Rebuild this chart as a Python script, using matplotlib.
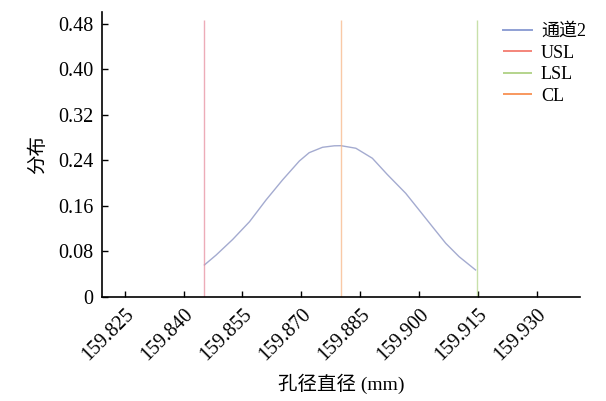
import matplotlib
matplotlib.use("Agg")
from matplotlib import pyplot as plt
from matplotlib.ticker import FuncFormatter

plt.rcParams['font.family'] = ['Liberation Serif', 'Noto Sans CJK SC']
plt.rcParams['axes.unicode_minus'] = False

# normal curve for channel 2
diam = [159.8453, 159.8483, 159.8525, 159.8568, 159.8610, 159.8652, 159.8695,
        159.8720, 159.8754, 159.8784, 159.8801, 159.8839, 159.8881, 159.8919,
        159.8966, 159.9000, 159.9034, 159.9068, 159.9102, 159.9144]
dens = [0.0563, 0.0738, 0.1011, 0.1324, 0.1705, 0.2057, 0.2391,
        0.2537, 0.2632, 0.2658, 0.2660, 0.2615, 0.2439, 0.2154,
        0.1823, 0.1530, 0.1236, 0.0944, 0.0709, 0.0475]

usl = 159.8453
lsl = 159.9147
cl = 159.8802
limit_top = 0.487

xticks = [159.825, 159.840, 159.855, 159.870, 159.885, 159.900, 159.915, 159.930]
yticks = [0, 0.08, 0.16, 0.24, 0.32, 0.40, 0.48]

fig = plt.figure(figsize=(6.06, 4.01), dpi=100)
ax = fig.add_axes([0.1683, 0.2594, 0.7887, 0.7106])

ax.plot(diam, dens, color='#a4abd0', lw=1.0, label='通道2')
ax.vlines(usl, 0, limit_top, color='#e890a0', lw=1.0, alpha=0.75, label='USL')
ax.vlines(lsl, 0, limit_top, color='#b6d68e', lw=1.0, alpha=0.75, label='LSL')
ax.vlines(cl, 0, limit_top, color='#f8b888', lw=1.0, alpha=0.75, label='CL')

ax.set_xlim(159.8192, 159.941)
ax.set_ylim(0, 0.501)
ax.set_xticks(xticks)
ax.set_yticks(yticks)
ax.xaxis.set_major_formatter(FuncFormatter(lambda v, p: '%.3f' % v))
ax.yaxis.set_major_formatter(FuncFormatter(lambda v, p: '0' if v == 0 else '%.2f' % v))
ax.tick_params(direction='in', length=4.5, width=1, labelsize=14.5, pad=6)
plt.setp(ax.get_xticklabels(), rotation=45, ha='right', rotation_mode='anchor')

for s in ['top', 'right']:
    ax.spines[s].set_visible(False)
for s in ['left', 'bottom']:
    ax.spines[s].set_linewidth(1.2)

ax.set_xlabel('孔径直径 (mm)', fontsize=14, labelpad=6)
ax.set_ylabel('分布', fontsize=14, labelpad=8)

leg = ax.legend(loc='upper left', bbox_to_anchor=(503 / 606, 1 - 23 / 401),
                bbox_transform=fig.transFigure, frameon=False, fontsize=13,
                borderpad=0, borderaxespad=0, handlelength=1.6,
                handletextpad=0.5, labelspacing=0.25)
leg_colors = ['#8fa0d4', '#f4857a', '#b4d48c', '#f8985e']
for h, c in zip(leg.legend_handles, leg_colors):
    h.set_color(c)
    h.set_alpha(1)
    h.set_linewidth(1.4)

plt.savefig("out.png", dpi=100)
